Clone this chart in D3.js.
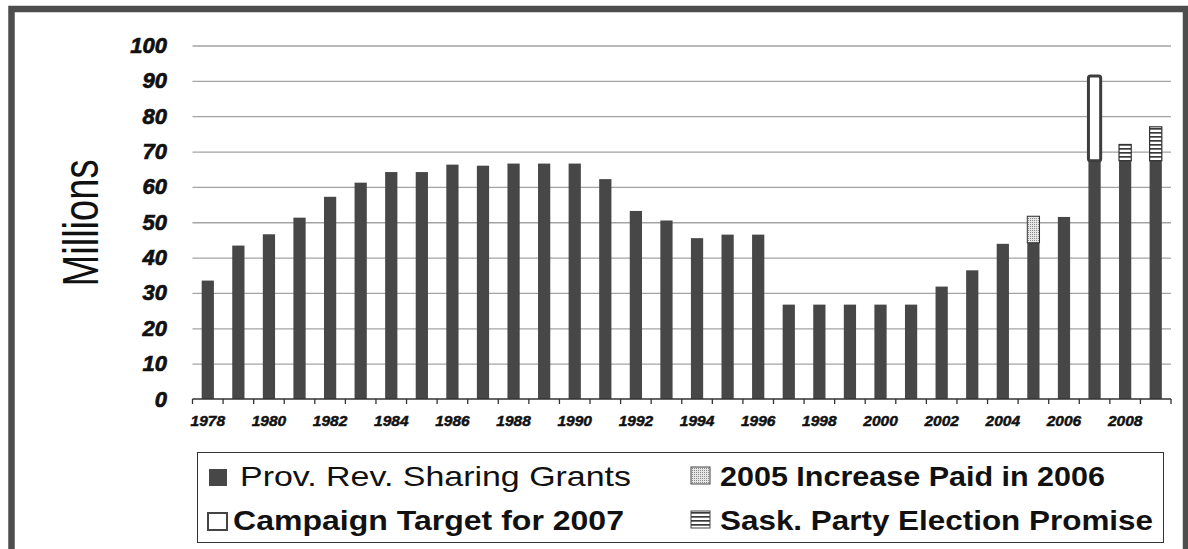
<!doctype html>
<html>
<head>
<meta charset="utf-8">
<script src="https://d3js.org/d3.v7.min.js"></script>
<style>
  body { margin: 0; background: #fff; }
  svg { display: block; }
</style>
</head>
<body>
<div id="viz"></div>
<script>

// data (millions)
var years = [1978, 1979, 1980, 1981, 1982, 1983, 1984, 1985, 1986, 1987, 1988,
  1989, 1990, 1991, 1992, 1993, 1994, 1995, 1996, 1997, 1998, 1999, 2000,
  2001, 2002, 2003, 2004, 2005, 2006, 2007, 2008, 2009]
var grants = [33.5, 43.4, 46.6, 51.3, 57.2, 61.2, 64.2, 64.2, 66.3, 66.0, 66.6,
  66.6, 66.6, 62.2, 53.2, 50.5, 45.5, 46.5, 46.5, 26.7, 26.7, 26.7, 26.7,
  26.7, 31.8, 36.4, 43.9, 44.2, 51.5, 67.4, 67.4, 67.4]
var increaseYears = [2005]
var increaseValues = [7.5]
var campaignYears = [2007]
var campaignValues = [24.0]
var promiseYears = [2008, 2009]
var promiseValues = [4.6, 9.6]
var labelYears = [1978, 1980, 1982, 1984, 1986, 1988, 1990, 1992, 1994, 1996,
  1998, 2000, 2002, 2004, 2006, 2008]
var yTicks = [0, 10, 20, 30, 40, 50, 60, 70, 80, 90, 100]

var legendItems = [
  { key: 'grants', label: 'Prov. Rev. Sharing Grants' },
  { key: 'increase', label: '2005 Increase Paid in 2006' },
  { key: 'campaign', label: 'Campaign Target for 2007' },
  { key: 'promise', label: 'Sask. Party Election Promise' }
]

var W = 1188, H = 549
var barColor = '#474747'
var plotL = 192.5, plotR = 1171, plotT = 45.5, plotB = 399

var svg = d3.select('#viz').append('svg')
  .attr('width', W)
  .attr('height', H)

var defs = svg.append('defs')
var dots = defs.append('pattern')
  .attr('id', 'dots').attr('patternUnits', 'userSpaceOnUse')
  .attr('width', 2).attr('height', 2)
dots.append('rect').attr('width', 2).attr('height', 2).attr('fill', '#e6e6e6')
dots.append('rect').attr('width', 1).attr('height', 1).attr('fill', '#8a8a8a')

var stripes = defs.append('pattern')
  .attr('id', 'stripes').attr('patternUnits', 'userSpaceOnUse')
  .attr('width', 8).attr('height', 4)
stripes.append('rect').attr('width', 8).attr('height', 4).attr('fill', '#fff')
stripes.append('rect').attr('width', 8).attr('height', 1.7).attr('fill', '#3a3a3a')

var x = d3.scaleBand()
  .domain(years)
  .range([plotL, plotR])
  .paddingInner(0.6)
  .paddingOuter(0.3)

var y = d3.scaleLinear()
  .domain([0, 100])
  .range([plotB, plotT])

// outer frame
svg.append('rect')
  .attr('x', 11.5).attr('y', 9)
  .attr('width', 1174.5).attr('height', 620)
  .attr('fill', 'none')
  .attr('stroke', '#4d4d4d')
  .attr('stroke-width', 6.5)

// gridlines
var grid = svg.append('g')
  .attr('transform', 'translate(' + plotL + ',0)')
  .call(d3.axisLeft(y).tickValues(yTicks.slice(1)).tickSize(-(plotR - plotL)).tickFormat(''))
grid.select('.domain').remove()
grid.selectAll('line').attr('stroke', '#a3a3a3').attr('stroke-width', 1.3)

// y labels
var yAxis = svg.append('g')
  .attr('transform', 'translate(167,0)')
  .call(d3.axisLeft(y).tickValues(yTicks).tickSize(0).tickPadding(0))
yAxis.select('.domain').remove()
yAxis.selectAll('text')
  .attr('font-family', 'Liberation Sans, Arial, sans-serif')
  .attr('font-size', 22)
  .attr('font-weight', 'bold')
  .attr('font-style', 'italic')
  .attr('fill', '#111')
  .attr('stroke', '#111')
  .attr('stroke-width', 0.7)

svg.append('text')
  .attr('transform', 'translate(98,223) rotate(-90)')
  .attr('text-anchor', 'middle')
  .attr('font-family', 'Liberation Sans, Arial, sans-serif')
  .attr('font-size', 50)
  .attr('textLength', 127)
  .attr('lengthAdjust', 'spacingAndGlyphs')
  .attr('fill', '#111')
  .text('Millions')

// base bars
svg.selectAll('rect.grant')
  .data(years)
  .enter()
  .append('rect')
  .attr('class', 'grant')
  .attr('x', function(d) { return x(d); })
  .attr('width', x.bandwidth())
  .attr('y', function(d, i) { return y(grants[i]); })
  .attr('height', function(d, i) { return y(0) - y(grants[i]); })
  .attr('fill', barColor)

function baseOf(yr) { return grants[years.indexOf(yr)]; }

// 2005 increase (dotted)
svg.selectAll('rect.increase')
  .data(increaseYears)
  .enter()
  .append('rect')
  .attr('x', function(d) { return x(d); })
  .attr('width', x.bandwidth())
  .attr('y', function(d, i) { return y(baseOf(d) + increaseValues[i]); })
  .attr('height', function(d, i) { return y(baseOf(d)) - y(baseOf(d) + increaseValues[i]); })
  .attr('fill', 'url(#dots)')
  .attr('stroke', '#333')
  .attr('stroke-width', 1)

// campaign target (hollow)
svg.selectAll('rect.campaign')
  .data(campaignYears)
  .enter()
  .append('rect')
  .attr('x', function(d) { return x(d); })
  .attr('width', x.bandwidth())
  .attr('y', function(d, i) { return y(baseOf(d) + campaignValues[i]); })
  .attr('height', function(d, i) { return y(baseOf(d)) - y(baseOf(d) + campaignValues[i]); })
  .attr('rx', 2)
  .attr('fill', '#fff')
  .attr('stroke', '#3d3d3d')
  .attr('stroke-width', 3)

// election promise (striped)
svg.selectAll('rect.promise')
  .data(promiseYears)
  .enter()
  .append('rect')
  .attr('x', function(d) { return x(d); })
  .attr('width', x.bandwidth())
  .attr('y', function(d, i) { return y(baseOf(d) + promiseValues[i]); })
  .attr('height', function(d, i) { return y(baseOf(d)) - y(baseOf(d) + promiseValues[i]); })
  .attr('fill', 'url(#stripes)')
  .attr('stroke', '#333')
  .attr('stroke-width', 1.2)

// x axis: line, boundary ticks, labels
svg.append('line')
  .attr('x1', plotL).attr('x2', plotR)
  .attr('y1', y(0)).attr('y2', y(0))
  .attr('stroke', '#333').attr('stroke-width', 1.3)

var bounds = years.map(function(d) { return x(d) + x.bandwidth() / 2 - x.step() / 2; })
bounds.push(plotR)
svg.selectAll('line.tick')
  .data(bounds)
  .enter()
  .append('line')
  .attr('x1', function(d) { return d; })
  .attr('x2', function(d) { return d; })
  .attr('y1', y(0)).attr('y2', y(0) + 5)
  .attr('stroke', '#333').attr('stroke-width', 1.3)

var xAxis = svg.append('g')
  .attr('transform', 'translate(0,' + y(0) + ')')
  .call(d3.axisBottom(x).tickValues(labelYears).tickSize(0).tickPadding(16))
xAxis.select('.domain').remove()
xAxis.selectAll('text')
  .attr('font-family', 'Liberation Sans, Arial, sans-serif')
  .attr('font-size', 15.5)
  .attr('font-weight', 'bold')
  .attr('font-style', 'italic')
  .attr('fill', '#111')
  .attr('stroke', '#111')
  .attr('stroke-width', 0.5)

// legend
svg.append('rect')
  .attr('x', 197.5).attr('y', 452.5)
  .attr('width', 966).attr('height', 90)
  .attr('fill', '#fff')
  .attr('stroke', '#333')
  .attr('stroke-width', 1)

var legendPos = {
  grants: { sx: 209, sy: 469, tx: 240, ty: 486, len: 391, bold: false },
  increase: { sx: 691, sy: 467, tx: 720, ty: 486, len: 385, bold: true },
  campaign: { sx: 208, sy: 513, tx: 233, ty: 530, len: 391, bold: true },
  promise: { sx: 691, sy: 511, tx: 720, ty: 530, len: 433, bold: true }
}

var lg = svg.selectAll('g.legend')
  .data(legendItems)
  .enter()
  .append('g')

lg.append('rect')
  .attr('x', function(d) { return legendPos[d.key].sx; })
  .attr('y', function(d) { return legendPos[d.key].sy; })
  .attr('width', function(d) { return d.key == 'grants' ? 18 : 19; })
  .attr('height', 17)
  .attr('fill', function(d) {
    if (d.key == 'grants') return barColor
    if (d.key == 'increase') return 'url(#dots)'
    if (d.key == 'promise') return 'url(#stripes)'
    return '#fff'
  })
  .attr('stroke', function(d) { return d.key == 'grants' ? 'none' : '#444'; })
  .attr('stroke-width', function(d) { return d.key == 'campaign' ? 2 : 1; })

lg.append('text')
  .attr('x', function(d) { return legendPos[d.key].tx; })
  .attr('y', function(d) { return legendPos[d.key].ty; })
  .attr('font-family', 'Liberation Sans, Arial, sans-serif')
  .attr('font-size', 28)
  .attr('font-weight', function(d) { return legendPos[d.key].bold ? 'bold' : 'normal'; })
  .attr('textLength', function(d) { return legendPos[d.key].len; })
  .attr('lengthAdjust', 'spacingAndGlyphs')
  .attr('fill', '#111')
  .text(function(d) { return d.label; })

</script>
</body>
</html>
